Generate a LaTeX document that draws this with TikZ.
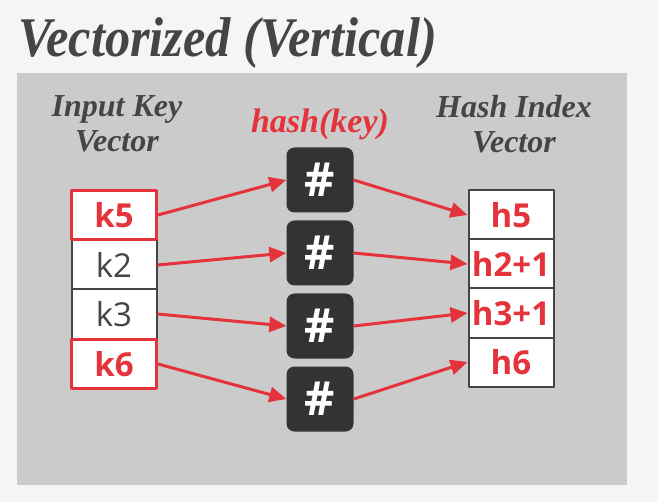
\documentclass[tikz,border=0pt]{standalone}
\usepackage{fontspec}
\setmainfont{Liberation Serif}
\setsansfont{Open Sans}
\usetikzlibrary{arrows.meta}
\definecolor{ink}{HTML}{454545}
\definecolor{paper}{HTML}{F5F5F5}
\definecolor{panel}{HTML}{CBCBCB}
\definecolor{hashred}{HTML}{E5333B}
\definecolor{hashdark}{HTML}{333333}

\begin{document}
\begin{tikzpicture}[
  x=1pt,
  y=-1pt,
  line join=round,
  keybox/.style={draw=ink, line width=2pt, fill=white, inner sep=0pt,
    minimum width=85pt, minimum height=49pt, text=ink,
    font=\sffamily\fontsize{33}{33}\selectfont},
  hotbox/.style={keybox, draw=hashred, line width=3pt, text=hashred,
    font=\sffamily\bfseries\fontsize{33}{33}\selectfont},
  idxbox/.style={keybox, text=hashred,
    font=\sffamily\bfseries\fontsize{33}{33}\selectfont},
  hashbox/.style={fill=hashdark, rounded corners=8pt, inner sep=0pt,
    minimum width=67pt, minimum height=65pt, text=white,
    font=\sffamily\bfseries\fontsize{47}{47}\selectfont},
  flow/.style={hashred, line width=3pt, -{Triangle[length=17pt,width=15pt]}},
  heading/.style={ink, align=center,
    font=\bfseries\itshape\fontsize{32}{35}\selectfont}
]
  \useasboundingbox (0,0) rectangle (658,502);
  \fill[paper] (0,0) rectangle (658,502);
  \fill[panel] (17,73) rectangle (627,485);

  \node[anchor=base west, inner sep=0pt, ink,
    font=\bfseries\itshape\fontsize{56}{56}\selectfont]
    (title) at (18,57) {\scalebox{0.9}[1]{Vectorized (Vertical)}};

  \node[heading] (inlabel) at (117,124) {Input Key\\Vector};
  \node[heading] (outlabel) at (514,124) {Hash Index\\Vector};
  \node[hashred, font=\bfseries\itshape\fontsize{34}{34}\selectfont]
    (fnlabel) at (320,124) {hash(key)};

  % input key vector
  \node[keybox] (k2) at (114,265) {k2};
  \node[keybox] (k3) at (114,314) {k3};
  \node[hotbox] (k5) at (114,215) {k5};
  \node[hotbox] (k6) at (114,364) {k6};

  % hash functions
  \node[hashbox] (h1) at (320,180) {\#};
  \node[hashbox] (h2) at (320,253) {\#};
  \node[hashbox] (h3) at (320,326) {\#};
  \node[hashbox] (h4) at (320,399) {\#};

  % hash index vector
  \node[idxbox] (i5) at (511,215) {h5};
  \node[idxbox] (i2) at (511,264) {h2+1};
  \node[idxbox] (i3) at (511,313) {h3+1};
  \node[idxbox] (i6) at (511,362) {h6};

  \draw[flow] (k5.east) -- (h1.west);
  \draw[flow] (k2.east) -- (h2.west);
  \draw[flow] (k3.east) -- (h3.west);
  \draw[flow] (k6.east) -- (h4.west);

  \draw[flow] (h1.east) -- (i5.west);
  \draw[flow] (h2.east) -- (i2.west);
  \draw[flow] (h3.east) -- (i3.west);
  \draw[flow] (h4.east) -- (i6.west);
\end{tikzpicture}
\end{document}
